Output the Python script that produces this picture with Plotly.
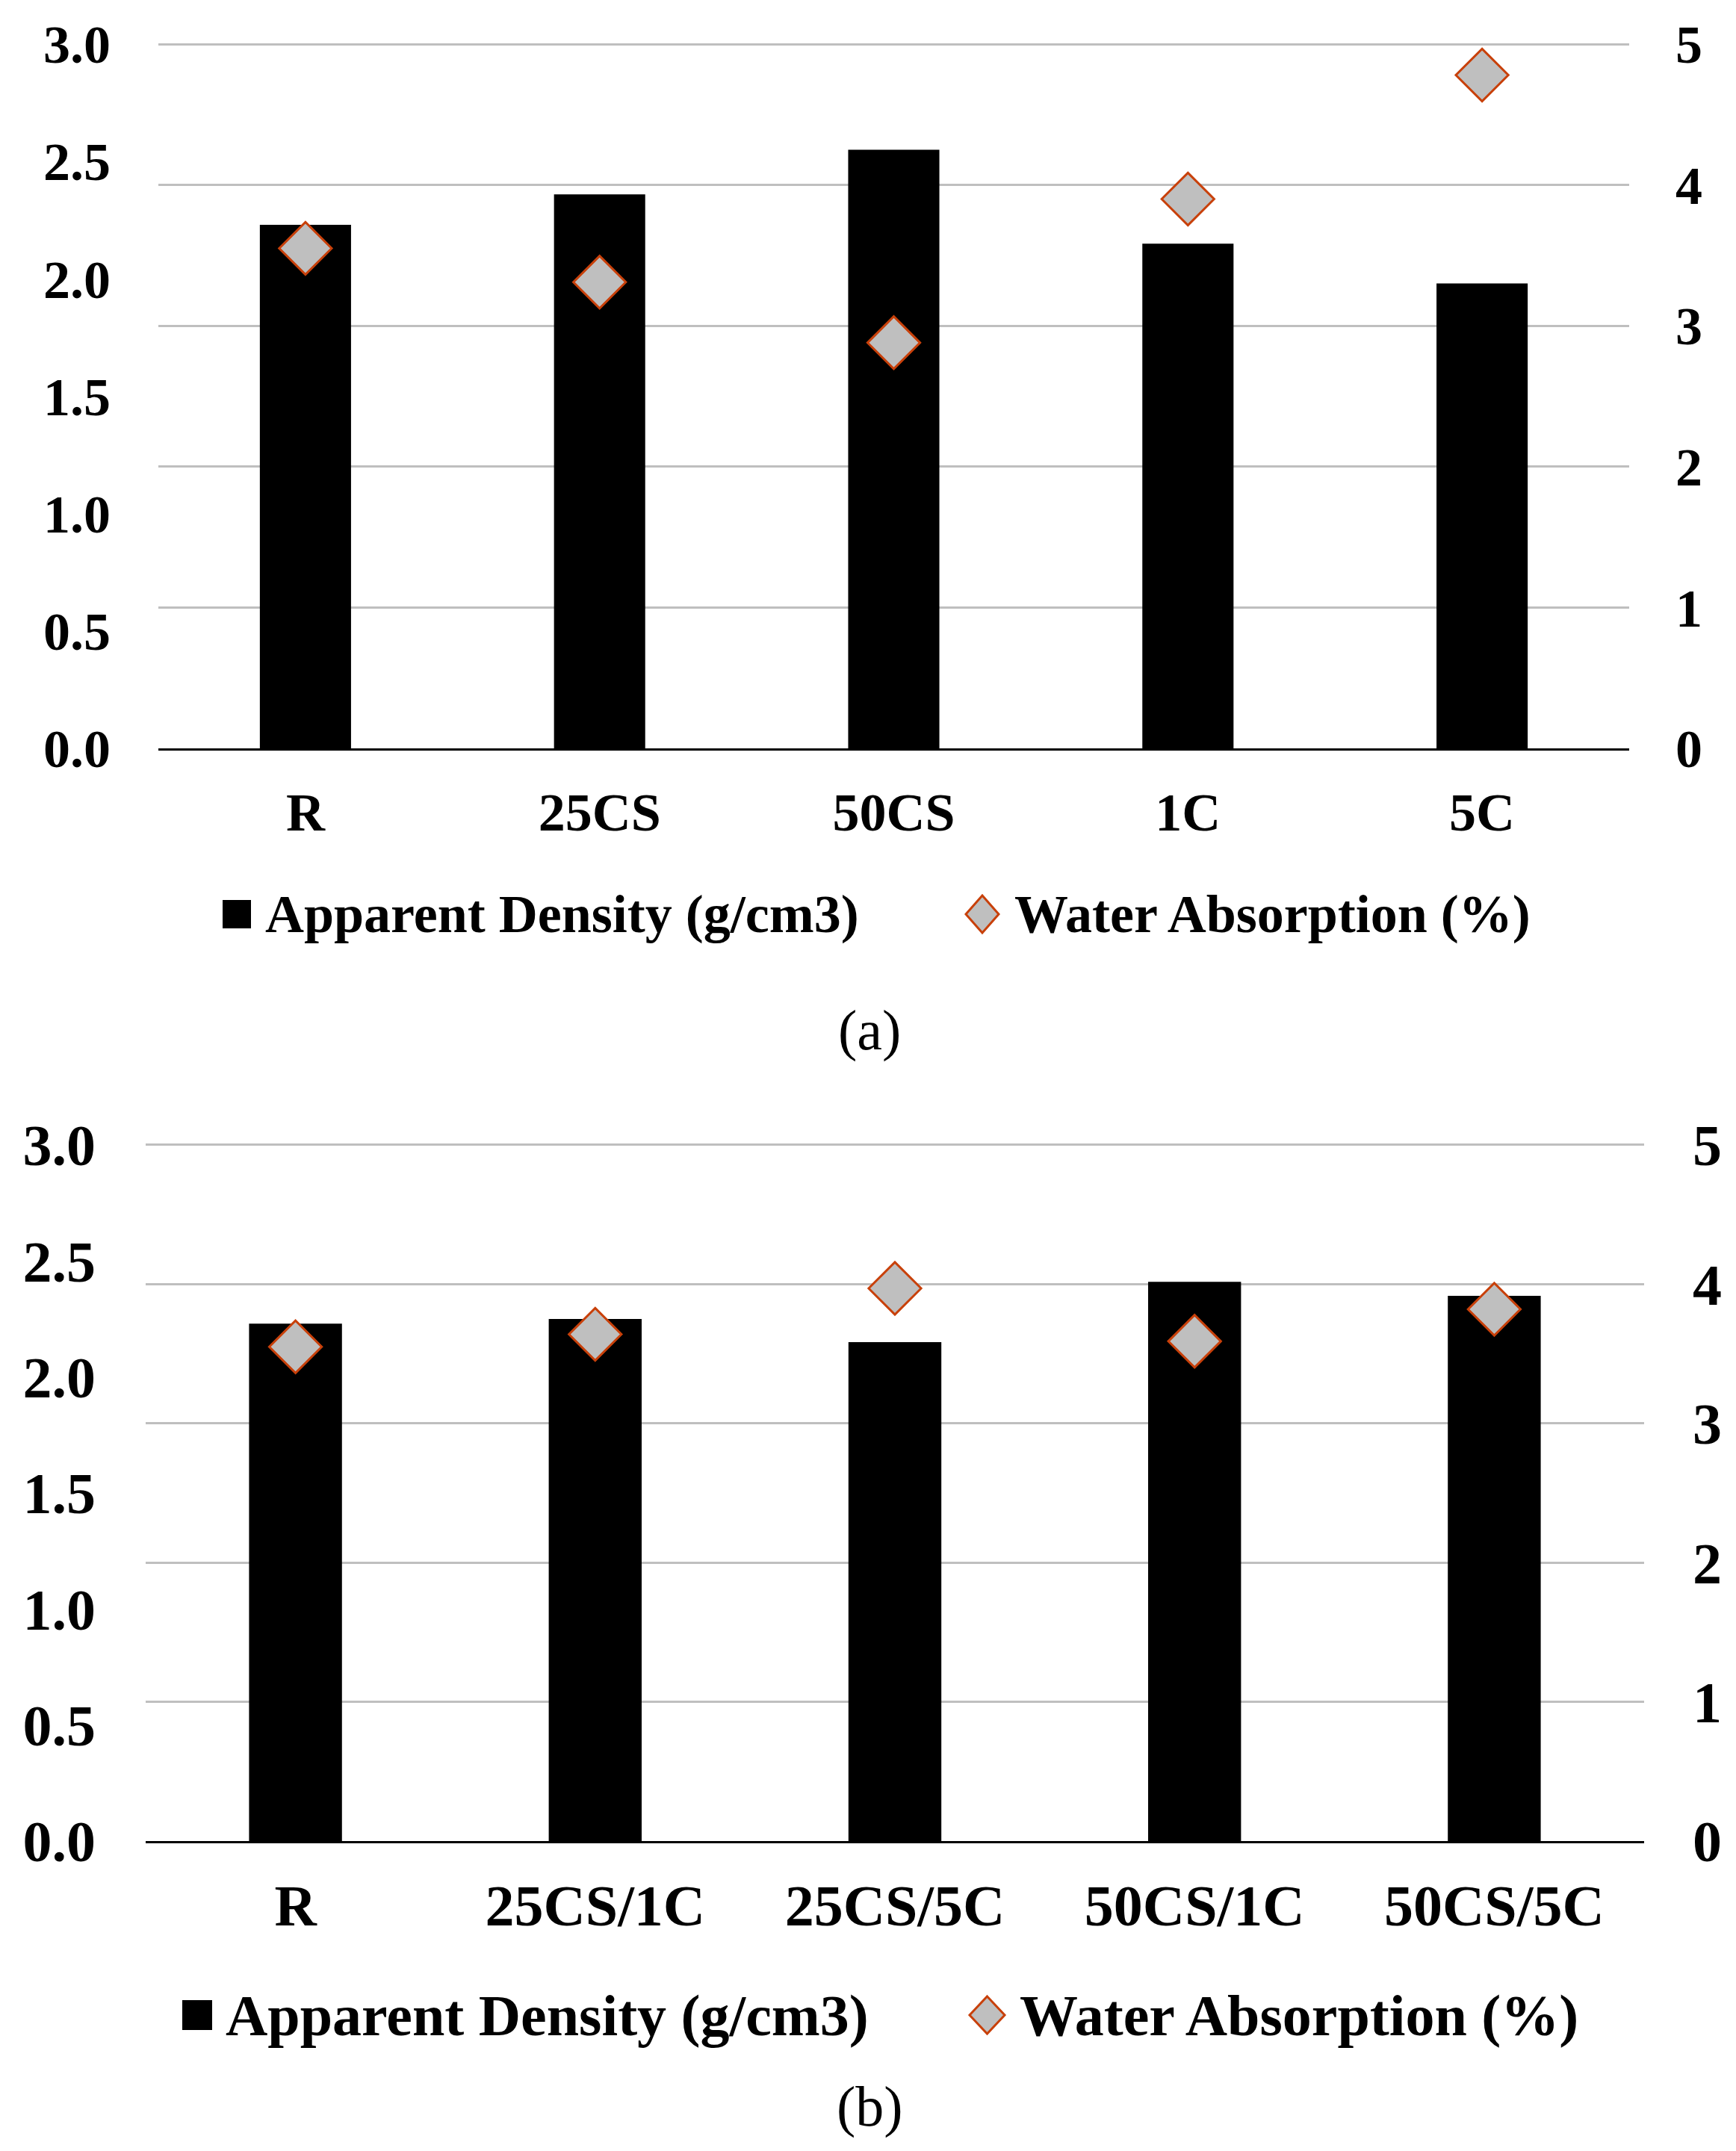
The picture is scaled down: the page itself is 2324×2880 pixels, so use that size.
import plotly.graph_objects as go
from plotly.subplots import make_subplots

# panel (a)
cats_a = ["R", "25CS", "50CS", "1C", "5C"]
density_a = [2.23, 2.36, 2.55, 2.15, 1.98]
absorption_a = [3.55, 3.31, 2.88, 3.90, 4.78]

# panel (b)
cats_b = ["R", "25CS/1C", "25CS/5C", "50CS/1C", "50CS/5C"]
density_b = [2.23, 2.25, 2.15, 2.41, 2.35]
absorption_b = [3.55, 3.64, 3.97, 3.59, 3.82]

left_ticks = [0, 0.5, 1.0, 1.5, 2.0, 2.5, 3.0]
right_ticks = [0, 1, 2, 3, 4, 5]

name_density = "Apparent Density (g/cm3)"
name_water = "Water Absorption (%)"

W, H = 2324, 2880
OFF = 8  # default body margin of the page
SERIF = "Liberation Serif"
GRID = "#BFBFBF"
DIAMOND_FILL = "#BFBFBF"
DIAMOND_LINE = "#C8400A"
PAD = 1.006  # small headroom so the top gridline is not clipped


def fx(p):
    return (p - OFF) / W


def fy(p):
    return 1 - (p - OFF) / H


fig = make_subplots(rows=2, cols=1,
                    specs=[[{"secondary_y": True}], [{"secondary_y": True}]])

for row, cats, dens, wat in [(1, cats_a, density_a, absorption_a),
                             (2, cats_b, density_b, absorption_b)]:
    fig.add_trace(go.Bar(x=cats, y=dens, name=name_density,
                         marker=dict(color="black", line=dict(width=0)),
                         showlegend=False), row=row, col=1, secondary_y=False)
    fig.add_trace(go.Scatter(x=cats, y=wat, mode="markers", name=name_water,
                             marker=dict(symbol="diamond", size=54, color=DIAMOND_FILL,
                                         line=dict(color=DIAMOND_LINE, width=3)),
                             showlegend=False), row=row, col=1, secondary_y=True)

panels = [
    # x axis, left y, right y, plot box (l, r, top, bottom), font size, x standoff, y standoffs
    ("xaxis", "yaxis", "yaxis2", (212, 2181, 59, 1002), 72, 21, 63, 61),
    ("xaxis2", "yaxis3", "yaxis4", (195, 2201, 1533, 2465), 78, 16, 66, 64),
]

for xa, yl, yr, (l, r, t, b), fs, xs, ls, rs in panels:
    tf = dict(family=SERIF, size=fs, color="black", weight="bold")
    top = b - (b - t) * PAD
    fig.layout[xa].update(domain=[fx(l), fx(r)], showline=True, linecolor="black",
                          linewidth=3, showgrid=False, ticks="", tickfont=tf,
                          ticklabelstandoff=xs)
    fig.layout[yl].update(domain=[fy(b), fy(top)], range=[0, 3 * PAD], tickvals=left_ticks,
                          tickformat=".1f", showgrid=False, zeroline=False,
                          showline=False, tickfont=tf, ticklabelstandoff=ls)
    fig.layout[yr].update(range=[0, 5 * PAD], tickvals=right_ticks, showgrid=True,
                          gridcolor=GRID, gridwidth=2.5, zeroline=False, showline=False,
                          tickfont=tf, ticklabelstandoff=rs)

# legend keys and captions, placed like the original figure
shapes = []
annotations = []
legends = [
    # square box, text start, diamond box, text start, centre y, font size
    ((298, 336), 353, (1293, 1337), 1356, 1224, 72),
    ((244, 284), 300, (1298, 1345), 1363, 2698, 78),
]
for (sq0, sq1), t1, (d0, d1), t2, cy, fs in legends:
    half = (sq1 - sq0) / 2
    shapes.append(dict(type="rect", xref="paper", yref="paper",
                       x0=fx(sq0), x1=fx(sq1), y0=fy(cy + half), y1=fy(cy - half),
                       fillcolor="black", line=dict(width=0)))
    dh = 25
    dm = (d0 + d1) / 2
    path = (f"M {fx(dm)} {fy(cy - dh)} L {fx(d1)} {fy(cy)} "
            f"L {fx(dm)} {fy(cy + dh)} L {fx(d0)} {fy(cy)} Z")
    shapes.append(dict(type="path", xref="paper", yref="paper", path=path,
                       fillcolor=DIAMOND_FILL, line=dict(color=DIAMOND_LINE, width=3)))
    lf = dict(family=SERIF, size=fs, color="black", weight="bold")
    annotations.append(dict(text=name_density, x=fx(t1), y=fy(cy), xref="paper",
                            yref="paper", xanchor="left", yanchor="middle",
                            showarrow=False, font=lf))
    annotations.append(dict(text=name_water, x=fx(t2), y=fy(cy), xref="paper",
                            yref="paper", xanchor="left", yanchor="middle",
                            showarrow=False, font=lf))

for label, cx, cy in [("(a)", 1164, 1379), ("(b)", 1164, 2820)]:
    annotations.append(dict(text=label, x=fx(cx), y=fy(cy), xref="paper", yref="paper",
                            xanchor="center", yanchor="middle", showarrow=False,
                            font=dict(family=SERIF, size=76, color="black")))

fig.update_layout(
    width=W, height=H,
    margin=dict(l=0, r=0, t=0, b=0, autoexpand=False),
    paper_bgcolor="white", plot_bgcolor="white",
    bargap=0.69,
    showlegend=False,
    shapes=shapes,
    annotations=annotations,
)

fig.write_html("out.html")
